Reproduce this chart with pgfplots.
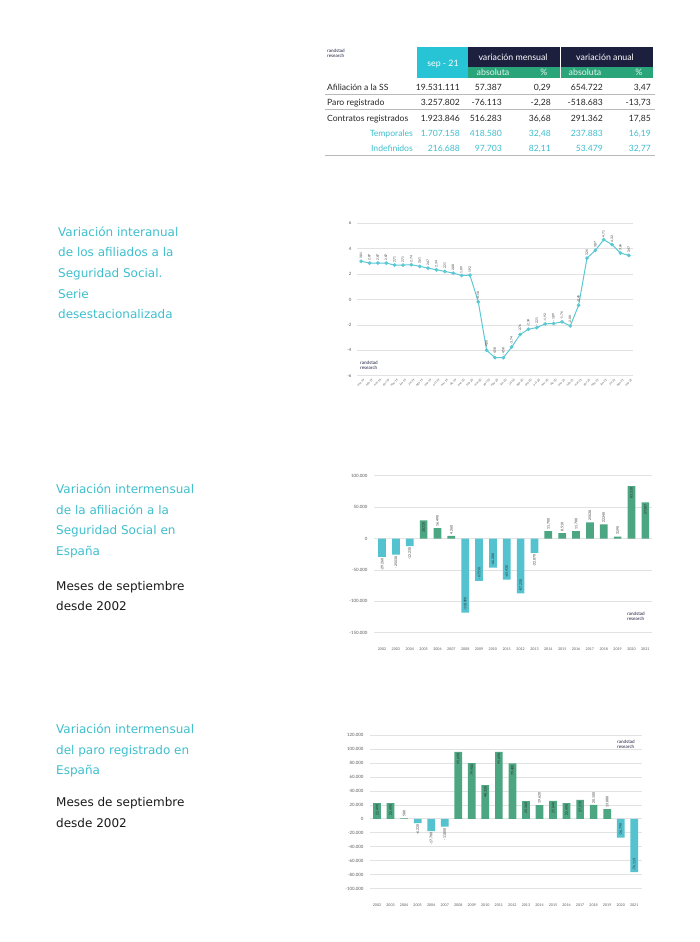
\documentclass[border=0pt]{standalone}
\usepackage{fontspec}
\setmainfont{DejaVu Sans}
\newfontfamily\lato{Lato}
\usepackage{pgfplots}
\pgfplotsset{compat=1.18}
\usepackage{pgfplotstable}

\definecolor{rteal}{RGB}{62,190,205}
\definecolor{rcyan}{RGB}{38,196,212}
\definecolor{rnavy}{RGB}{29,31,62}
\definecolor{rgreen}{RGB}{42,165,122}
\definecolor{barteal}{RGB}{84,195,207}
\definecolor{bargreen}{RGB}{76,166,130}
\definecolor{rline}{RGB}{92,200,212}
\definecolor{gridgray}{RGB}{226,226,226}
\definecolor{rulegray}{RGB}{185,185,185}

% variación interanual afiliados (ene-19 ... sep-21)
\pgfplotstableread{
x y
0 3.01
1 2.87
2 2.87
3 2.87
4 2.71
5 2.71
6 2.74
7 2.61
8 2.47
9 2.34
10 2.21
11 2.08
12 1.89
13 1.92
14 -0.18
15 -4.00
16 -4.58
17 -4.58
18 -3.74
19 -2.76
20 -2.34
21 -2.21
22 -1.92
23 -1.89
24 -1.76
25 -2.08
26 -0.45
27 3.26
28 3.87
29 4.71
30 4.32
31 3.66
32 3.47
}\interanual

% afiliación, septiembre
\pgfplotstableread{
year val
2008 -118090
2009 -67550
2010 -46280
2011 -65430
2012 -87230
}\afNegIn
\pgfplotstableread{
year val
2002 -29260
2003 -25530
2004 -12230
2013 -22870
}\afNegOut
\pgfplotstableread{
year val
2005 28720
2020 83510
2021 57387
}\afPosIn
\pgfplotstableread{
year val
2006 16490
2007 4260
2014 11700
2015 8510
2016 11700
2017 25530
2018 22340
2019 3190
}\afPosOut

% paro registrado, septiembre
\pgfplotstableread{
year val
2002 22490
2003 22490
2008 95690
2009 79900
2010 48330
2011 95690
2012 79430
2013 25360
2015 25840
2016 22490
2017 27270
}\paPosIn
\pgfplotstableread{
year val
2004 580
2014 19620
2018 20100
2019 13880
}\paPosOut
\pgfplotstableread{
year val
2005 -6220
2006 -17700
2007 -11000
}\paNegOut
\pgfplotstableread{
year val
2020 -26790
2021 -76113
}\paNegIn

\pgfplotsset{
  rchart/.style={
    scale only axis,
    axis line style={draw=none},
    tick style={draw=none},
    ymajorgrids,
    major grid style={gridgray, line width=0.7pt},
    tick label style={font=\lato\fontsize{4.4}{5}\selectfont, text=black!65},
    /pgf/number format/assume math mode=true,
    clip=false,
  },
  barlab/.style={
    nodes near coords={\pgfmathprintnumber[fixed,precision=0,1000 sep={.}]{\pgfplotspointmeta}},
    every node near coord/.append style={font=\lato\fontsize{3.4}{4}\selectfont,
      rotate=90, anchor=#1, inner sep=1.5pt, text=black!85},
  },
  yearbars/.style={
    rchart, ybar, bar width=7.7pt,
    xtick={2002,...,2021},
    xticklabel style={/pgf/number format/1000 sep={}, yshift=-7pt, font=\lato\fontsize{3.6}{4}\selectfont},
    yticklabel style={/pgf/number format/fixed, /pgf/number format/1000 sep={.}, xshift=-3pt},
    scaled y ticks=false,
  },
}

\newcommand{\rlogo}[2]{\node[anchor=north west, inner sep=0, align=left,
  font=\lato\fontsize{4.6}{4.6}\selectfont, text=rnavy] at (#1,#2) {randstad\\research};}

\begin{document}
\begin{tikzpicture}[x=1pt,y=1pt]
\useasboundingbox (0,0) rectangle (700,-942);

% ---- tabla resumen ----
\rlogo{327}{-49}
\fill[rcyan] (417,-47) rectangle (468,-78);
\fill[rnavy] (468,-47) rectangle (653,-67);
\fill[rgreen] (468,-67) rectangle (653,-78);
\draw[white, line width=0.8pt] (560,-47) -- (560,-78);
\begin{scope}[every node/.style={inner sep=0, font=\lato\fontsize{8.8}{10}\selectfont, text=white}]
  \node at (443,-64) {sep - 21};
  \node at (513,-57) {variación mensual};
  \node at (605,-57) {variación anual};
  \node[text=white!88!rgreen] at (493,-72.5) {absoluta};
  \node[text=white!88!rgreen] at (544,-72.5) {\%};
  \node[text=white!88!rgreen] at (585,-72.5) {absoluta};
  \node[text=white!88!rgreen] at (639,-72.5) {\%};
\end{scope}
\begin{scope}[every node/.style={inner sep=0, anchor=base east, font=\lato\fontsize{8.6}{10}\selectfont, text=black!85}]
  \node[anchor=base west] at (327,-90) {Afiliación a la SS};
  \node at (460,-90) {19.531.111}; \node at (502,-90) {57.387}; \node at (551,-90) {0,29};
  \node at (603,-90) {654.722}; \node at (651,-90) {3,47};
  \node[anchor=base west] at (327,-105.5) {Paro registrado};
  \node at (460,-105.5) {3.257.802}; \node at (502,-105.5) {-76.113}; \node at (551,-105.5) {-2,28};
  \node at (603,-105.5) {-518.683}; \node at (651,-105.5) {-13,73};
  \node[anchor=base west] at (327,-121) {Contratos registrados};
  \node at (460,-121) {1.923.846}; \node at (502,-121) {516.283}; \node at (551,-121) {36,68};
  \node at (603,-121) {291.362}; \node at (651,-121) {17,85};
  \begin{scope}[every node/.append style={text=rteal}]
    \node at (413,-136.5) {Temporales};
    \node at (460,-136.5) {1.707.158}; \node at (502,-136.5) {418.580}; \node at (551,-136.5) {32,48};
    \node at (603,-136.5) {237.883}; \node at (651,-136.5) {16,19};
    \node at (413,-151.5) {Indefinidos};
    \node at (460,-151.5) {216.688}; \node at (502,-151.5) {97.703}; \node at (551,-151.5) {82,11};
    \node at (603,-151.5) {53.479}; \node at (651,-151.5) {32,77};
  \end{scope}
\end{scope}
\draw[rulegray, line width=0.5pt] (325,-94) -- (655,-94);
\draw[rulegray, line width=0.5pt] (325,-109.5) -- (655,-109.5);
\draw[rulegray, line width=0.7pt] (325,-155) -- (655,-155);

% ---- textos de la izquierda ----
\begin{scope}[every node/.style={anchor=base west, inner sep=0, font=\fontsize{12}{14}\selectfont, text=rteal}]
  \node at (58,-236) {Variación interanual};
  \node at (58,-256.7) {de los afiliados a la};
  \node at (58,-277.3) {Seguridad Social.};
  \node at (58,-298) {Serie};
  \node at (58,-318.7) {desestacionalizada};
  \node at (56,-493.3) {Variación intermensual};
  \node at (56,-514) {de la afiliación a la};
  \node at (56,-534.7) {Seguridad Social en};
  \node at (56,-555.3) {España};
  \node[text=black!90] at (56,-590) {Meses de septiembre};
  \node[text=black!90] at (56,-610.7) {desde 2002};
  \node at (56,-733.3) {Variación intermensual};
  \node at (56,-754) {del paro registrado en};
  \node at (56,-774.7) {España};
  \node[text=black!90] at (56,-806.7) {Meses de septiembre};
  \node[text=black!90] at (56,-827.3) {desde 2002};
\end{scope}

% ---- gráfico 1: variación interanual ----
\begin{axis}[rchart, at={(357pt,-375.7pt)}, anchor=south west,
  width=276pt, height=152.4pt,
  xmin=-0.5, xmax=32.5, ymin=-6, ymax=6, ytick={-6,-4,...,6},
  xtick={0,...,32},
  xticklabels={ene-19,feb-19,mar-19,abr-19,may-19,jun-19,jul-19,ago-19,sep-19,oct-19,nov-19,dic-19,
    ene-20,feb-20,mar-20,abr-20,may-20,jun-20,jul-20,ago-20,sep-20,oct-20,nov-20,dic-20,
    ene-21,feb-21,mar-21,abr-21,may-21,jun-21,jul-21,ago-21,sep-21},
  xticklabel style={rotate=45, anchor=north east, inner sep=0.3pt, yshift=-3pt,
    font=\lato\fontsize{2.9}{3.2}\selectfont},
  yticklabel style={xshift=-2pt},
]
\addplot[rline, line width=1pt, mark=*, mark size=1.3pt,
  nodes near coords={\pgfmathprintnumber[fixed,fixed zerofill,precision=2,use comma]{\pgfplotspointmeta}},
  every node near coord/.append style={rotate=90, anchor=west, inner sep=2pt,
    font=\lato\fontsize{3.2}{4}\selectfont, text=black!80}]
  table[x=x, y=y] {\interanual};
\end{axis}
\rlogo{360}{-361}

% ---- gráfico 2: afiliación septiembre ----
\begin{axis}[yearbars, at={(374pt,-632.7pt)}, anchor=south west,
  width=278pt, height=157pt,
  xmin=2001.42, xmax=2021.48, ymin=-150000, ymax=100000,
  ytick={-150000,-100000,...,100000},
]
\addplot[fill=barteal, draw=none, bar shift=0pt, barlab=west] table[x=year, y=val] {\afNegIn};
\addplot[fill=barteal, draw=none, bar shift=0pt, barlab=east] table[x=year, y=val] {\afNegOut};
\addplot[fill=bargreen, draw=none, bar shift=0pt, barlab=east] table[x=year, y=val] {\afPosIn};
\addplot[fill=bargreen, draw=none, bar shift=0pt, barlab=west] table[x=year, y=val] {\afPosOut};
\end{axis}
\rlogo{627}{-612}

% ---- gráfico 3: paro registrado septiembre ----
\begin{axis}[yearbars, at={(370pt,-888.7pt)}, anchor=south west,
  width=271.7pt, height=153.7pt,
  xmin=2001.48, xmax=2021.55, ymin=-100000, ymax=120000,
  ytick={-100000,-80000,...,120000},
]
\addplot[fill=bargreen, draw=none, bar shift=0pt, barlab=east] table[x=year, y=val] {\paPosIn};
\addplot[fill=bargreen, draw=none, bar shift=0pt, barlab=west] table[x=year, y=val] {\paPosOut};
\addplot[fill=barteal, draw=none, bar shift=0pt, barlab=east] table[x=year, y=val] {\paNegOut};
\addplot[fill=barteal, draw=none, bar shift=0pt, barlab=west] table[x=year, y=val] {\paNegIn};
\end{axis}
\rlogo{617}{-740}

\end{tikzpicture}
\end{document}
